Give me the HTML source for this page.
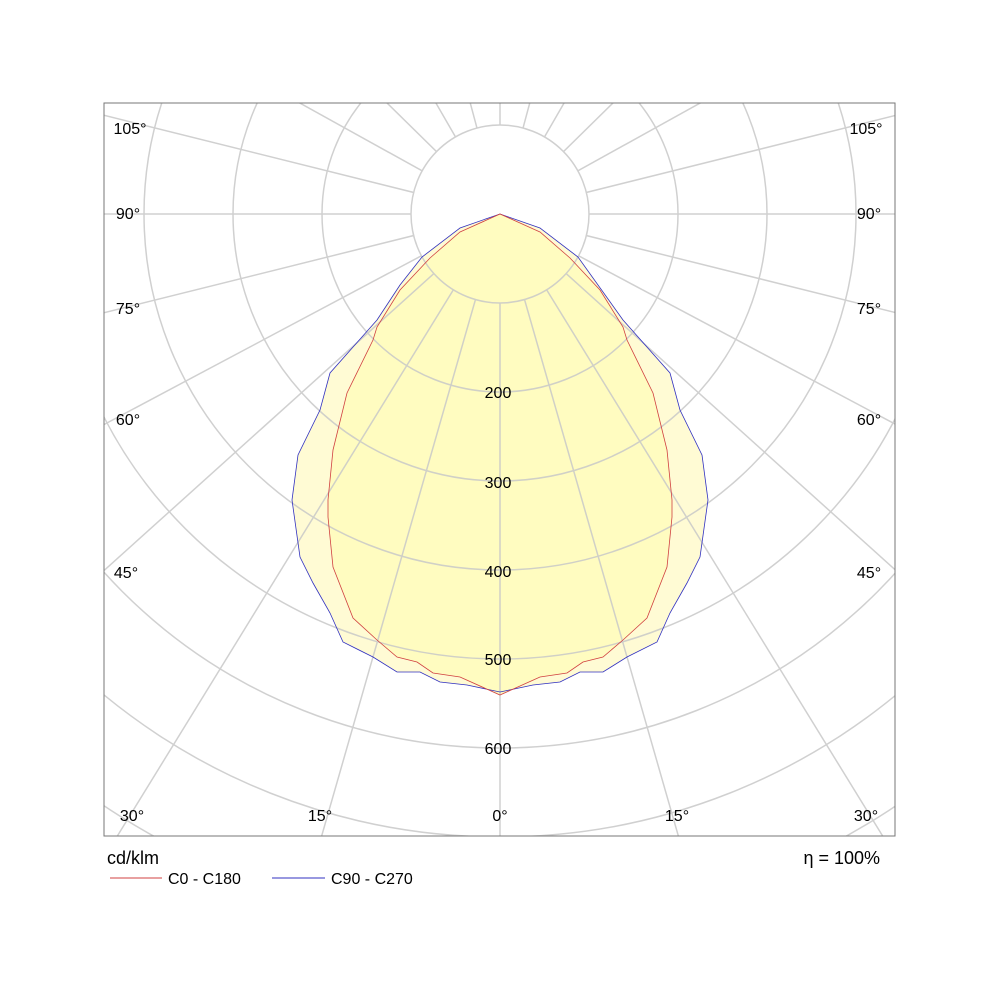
<!DOCTYPE html>
<html><head><style>html,body{margin:0;background:#fff;overflow:hidden;width:1000px;height:1000px}svg{display:block}</style></head><body>
<svg width="1000" height="1000" xmlns="http://www.w3.org/2000/svg" font-family="Liberation Sans, sans-serif" overflow="hidden">
<defs><clipPath id="c"><rect x="104" y="103" width="791" height="733"/></clipPath>
<mask id="m"><rect width="1000" height="1000" fill="#fff"/><circle cx="500" cy="214" r="89" fill="#000"/></mask></defs>
<polygon fill="#fffbd4" points="500,692 533,685 560,682 580,672 603,672 627,657 657,642 670,613 687,583 700,557 708,500 702,455 680,410 670,373 623,320 578,257 540,228 500,214 460,228 422,257 400,285 377,320 330,373 320,410 298,455 292,500 300,557 313,583 330,613 343,642 373,657 397,672 420,672 440,682 467,685"/>
<polygon fill="#fffcc0" points="500,695 540,677 567,673 583,662 603,657 623,640 647,618 667,567 672,517 672,500 667,450 653,393 627,340 623,327 600,290 570,258 540,232 500,214 460,232 430,258 400,290 377,327 373,340 347,393 333,450 328,500 328,517 333,567 353,618 377,640 397,657 417,662 433,673 460,677"/>
<g clip-path="url(#c)" fill="none" stroke="#c8c8c8" stroke-width="1.5" opacity="0.85">
<g mask="url(#m)">
<line x1="500" y1="214" x2="500" y2="960"/>
<g id="h">
<line x1="500" y1="214" x2="500" y2="960" transform="rotate(16 500 214)"/>
<line x1="500" y1="214" x2="500" y2="960" transform="rotate(31.6 500 214)"/>
<line x1="500" y1="214" x2="500" y2="960" transform="rotate(48 500 214)"/>
<line x1="500" y1="214" x2="500" y2="960" transform="rotate(62 500 214)"/>
<line x1="500" y1="214" x2="500" y2="960" transform="rotate(76 500 214)"/>
<line x1="500" y1="214" x2="500" y2="960" transform="rotate(90 500 214)"/>
<line x1="500" y1="214" x2="500" y2="960" transform="rotate(104 500 214)"/>
<line x1="500" y1="214" x2="500" y2="960" transform="rotate(119 500 214)"/>
<line x1="500" y1="214" x2="500" y2="960" transform="rotate(134.5 500 214)"/>
<line x1="500" y1="214" x2="500" y2="960" transform="rotate(150 500 214)"/>
<line x1="500" y1="214" x2="500" y2="960" transform="rotate(165 500 214)"/>
</g>
<use href="#h" transform="translate(1000 0) scale(-1 1)"/>
<line x1="500" y1="214" x2="500" y2="0"/>
</g>
<circle cx="500" cy="214" r="89"/><circle cx="500" cy="214" r="178"/><circle cx="500" cy="214" r="267"/>
<circle cx="500" cy="214" r="356"/><circle cx="500" cy="214" r="445"/><circle cx="500" cy="214" r="534"/>
<circle cx="500" cy="214" r="623"/><circle cx="500" cy="214" r="712"/>
</g>
<polygon fill="none" stroke="#3030c0" stroke-width="0.8" points="500,692 533,685 560,682 580,672 603,672 627,657 657,642 670,613 687,583 700,557 708,500 702,455 680,410 670,373 623,320 578,257 540,228 500,214 460,228 422,257 400,285 377,320 330,373 320,410 298,455 292,500 300,557 313,583 330,613 343,642 373,657 397,672 420,672 440,682 467,685"/>
<polygon fill="none" stroke="#d04040" stroke-width="0.8" points="500,695 540,677 567,673 583,662 603,657 623,640 647,618 667,567 672,517 672,500 667,450 653,393 627,340 623,327 600,290 570,258 540,232 500,214 460,232 430,258 400,290 377,327 373,340 347,393 333,450 328,500 328,517 333,567 353,618 377,640 397,657 417,662 433,673 460,677"/>
<rect x="104" y="103" width="791" height="733" fill="none" stroke="#777" stroke-width="1"/>
<g font-size="16" fill="#000" text-anchor="middle">
<text x="130" y="134">105°</text><text x="866" y="134">105°</text>
<text x="128" y="219">90°</text><text x="869" y="219">90°</text>
<text x="128" y="314">75°</text><text x="869" y="314">75°</text>
<text x="128" y="425">60°</text><text x="869" y="425">60°</text>
<text x="126" y="578">45°</text><text x="869" y="578">45°</text>
<text x="132" y="821">30°</text><text x="866" y="821">30°</text>
<text x="320" y="821">15°</text><text x="677" y="821">15°</text>
<text x="500" y="821">0°</text>
<text x="498" y="398">200</text><text x="498" y="488">300</text><text x="498" y="577">400</text>
<text x="498" y="665">500</text><text x="498" y="754">600</text>
</g>
<text x="107" y="864" font-size="18">cd/klm</text>
<text x="880" y="864" font-size="18" text-anchor="end">η = 100%</text>
<line x1="110" y1="878" x2="162" y2="878" stroke="#d04040" stroke-width="1"/>
<text x="168" y="884" font-size="16">C0 - C180</text>
<line x1="272" y1="878" x2="325" y2="878" stroke="#3030c0" stroke-width="1"/>
<text x="331" y="884" font-size="16">C90 - C270</text>
</svg>
</body></html>
